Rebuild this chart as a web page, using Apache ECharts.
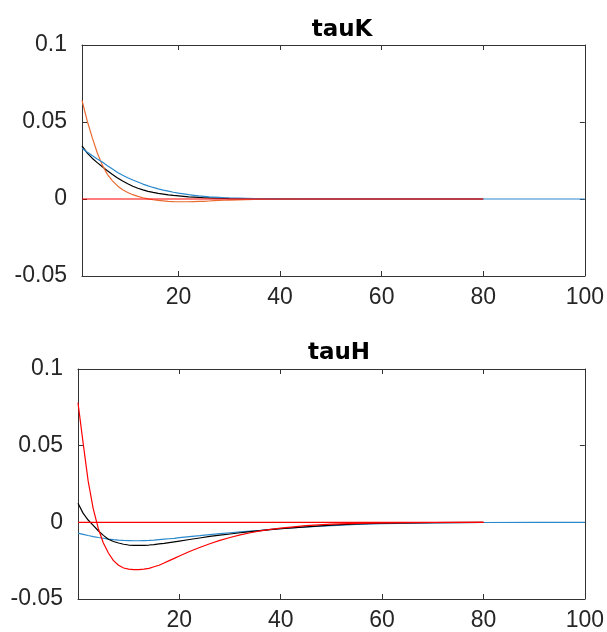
<!DOCTYPE html>
<html>
<head>
<meta charset="utf-8">
<script src="https://cdn.jsdelivr.net/npm/echarts@6/dist/echarts.min.js"></script>
<style>
  html, body { margin: 0; padding: 0; background: #fff; }
  #chart { width: 607px; height: 632px; }
</style>
</head>
<body>
<div id="chart"></div>
<script>
// tauK panel (periods 1..)
var kX = [1,2,3,4,5,6,7,8,9,10,11,12,13,14,15,16,17,18,19,20,21,22,23,24,25,26,27,28,29,30,35,40,45,50,60,70,80];
var kOrange = [0.064,0.051,0.040,0.030,0.022,0.016,0.0118,0.0085,0.006,0.0042,0.0028,0.0017,0.0008,0.0001,-0.0005,-0.0009,-0.0012,-0.0015,-0.0017,-0.0018,-0.0018,-0.0018,-0.0017,-0.0016,-0.0015,-0.0013,-0.0011,-0.0009,-0.0008,-0.0007,-0.0003,-0.0001,0,0,0,0,0];
var kBlack = [0.0345,0.030,0.0265,0.0236,0.0209,0.0183,0.0159,0.0137,0.0117,0.0099,0.0083,0.007,0.0059,0.005,0.0043,0.0037,0.0032,0.0027,0.0023,0.002,0.0017,0.0014,0.0012,0.001,0.0008,0.0007,0.0006,0.0005,0.0004,0.0003,0.0001,0,0,0,0,0,0];
var kBlueX = kX.concat([90,100]);
var kBlue = [0.033,0.0305,0.0282,0.026,0.024,0.0216,0.0194,0.0172,0.0154,0.0138,0.0123,0.011,0.0097,0.0085,0.0075,0.0066,0.0058,0.0051,0.0044,0.0038,0.0033,0.0028,0.0024,0.002,0.0017,0.0014,0.0012,0.001,0.0008,0.0007,0.0003,0.0001,0,0,0,0,0,0,0];
var kZeroX = [1,80];

// tauH panel (periods 0..)
var hX = [0,1,2,3,4,5,6,7,8,9,10,11,12,13,14,15,16,17,18,19,20,22,24,26,28,30,32,34,36,38,40,45,50,55,60,70,80];
var hRed = [0.078,0.052,0.027,0.009,-0.004,-0.0135,-0.020,-0.025,-0.028,-0.0298,-0.0305,-0.0308,-0.0308,-0.0305,-0.030,-0.029,-0.028,-0.0265,-0.025,-0.0235,-0.022,-0.019,-0.0164,-0.014,-0.0118,-0.0099,-0.0082,-0.0068,-0.0056,-0.0046,-0.0038,-0.0022,-0.0012,-0.0007,-0.0003,-0.0001,0];
var hBlack = [0.0124,0.006,0.0015,-0.002,-0.0055,-0.0085,-0.011,-0.0125,-0.0135,-0.0143,-0.0148,-0.015,-0.015,-0.015,-0.0148,-0.0145,-0.0141,-0.0137,-0.0132,-0.0127,-0.0122,-0.0112,-0.0102,-0.0092,-0.0084,-0.0076,-0.0068,-0.0061,-0.0054,-0.0048,-0.0042,-0.003,-0.0018,-0.001,-0.0006,-0.0002,0];
var hBlueX = hX.concat([90,100]);
var hBlue = [-0.007,-0.0078,-0.0086,-0.0093,-0.0099,-0.0104,-0.0109,-0.0113,-0.0116,-0.0118,-0.0119,-0.012,-0.012,-0.0119,-0.0118,-0.0116,-0.0113,-0.011,-0.0107,-0.0104,-0.01,-0.0093,-0.0087,-0.008,-0.0074,-0.0068,-0.0062,-0.0057,-0.0052,-0.0046,-0.0041,-0.003,-0.0021,-0.0014,-0.0009,-0.0003,-0.0001,0,0];
var hZeroX = [0,80];

var xTicks = [20,40,60,80,100];
var titles = ['tauK','tauH'];

function pairs(xs, ys) {
    return xs.map(function (x, i) { return [x, ys[i]]; });
}
function zeros(xs) {
    return xs.map(function (x) { return [x, 0]; });
}

var axisColor = '#333';
var textColor = '#262626';
var font = 'Liberation Sans, Arial, sans-serif';

function xAxes(idx, min) {
    return [
        {
            type: 'value', gridIndex: idx, min: min, max: 100, position: 'bottom',
            axisLine: {onZero: false, lineStyle: {color: axisColor, width: 1}},
            axisTick: {inside: true, length: 5, customValues: xTicks, lineStyle: {color: axisColor}},
            axisLabel: {customValues: xTicks, color: textColor, fontSize: 23, fontFamily: font, margin: 10},
            splitLine: {show: false}
        },
        {
            type: 'value', gridIndex: idx, min: min, max: 100, position: 'top',
            axisLine: {onZero: false, lineStyle: {color: axisColor, width: 1}},
            axisTick: {inside: true, length: 5, customValues: xTicks, lineStyle: {color: axisColor}},
            axisLabel: {show: false},
            splitLine: {show: false}
        }
    ];
}
function yAxes(idx) {
    return [
        {
            type: 'value', gridIndex: idx, min: -0.05, max: 0.1, interval: 0.05, position: 'left',
            axisLine: {show: true, onZero: false, lineStyle: {color: axisColor, width: 1}},
            axisTick: {show: true, inside: true, length: 5, lineStyle: {color: axisColor}},
            axisLabel: {
                color: textColor, fontSize: 23, fontFamily: font, margin: 15,
                formatter: function (v) { return String(parseFloat(v.toFixed(3))); }
            },
            splitLine: {show: false}
        },
        {
            type: 'value', gridIndex: idx, min: -0.05, max: 0.1, interval: 0.05, position: 'right',
            axisLine: {show: true, onZero: false, lineStyle: {color: axisColor, width: 1}},
            axisTick: {show: true, inside: true, length: 5, lineStyle: {color: axisColor}},
            axisLabel: {show: false},
            splitLine: {show: false}
        }
    ];
}

function line(data, color, xi, yi) {
    return {
        type: 'line', data: data, xAxisIndex: xi, yAxisIndex: yi,
        symbol: 'none', showSymbol: false, silent: true,
        lineStyle: {color: color, width: 1.2}
    };
}

var blue = '#2a88cc';
var orange = '#ea6a30';
var red = '#ff0000';

var dom = document.getElementById('chart');
var myChart = echarts.init(dom);
var option = {
    animation: false,
    backgroundColor: '#fff',
    title: [
        {text: titles[0], left: 337, top: 14, textAlign: 'center',
         textStyle: {fontSize: 23, fontWeight: 'bold', color: '#000', fontFamily: 'DejaVu Sans, sans-serif'}},
        {text: titles[1], left: 334, top: 337, textAlign: 'center',
         textStyle: {fontSize: 23, fontWeight: 'bold', color: '#000', fontFamily: 'DejaVu Sans, sans-serif'}}
    ],
    grid: [
        {left: 82, top: 45, width: 507, height: 231},
        {left: 78, top: 369, width: 511, height: 230}
    ],
    xAxis: xAxes(0, 1).concat(xAxes(1, 0)),
    yAxis: yAxes(0).concat(yAxes(1)),
    series: [
        line(pairs(kX, kBlack), '#000', 0, 0),
        line(pairs(kX, kOrange), orange, 0, 0),
        line(pairs(kBlueX, kBlue), blue, 0, 0),
        line(zeros(kZeroX), red, 0, 0),
        line(pairs(hBlueX, hBlue), blue, 2, 2),
        line(pairs(hX, hBlack), '#000', 2, 2),
        line(pairs(hX, hRed), red, 2, 2),
        line(zeros(hZeroX), red, 2, 2)
    ]
};
myChart.setOption(option, true);
</script>
</body>
</html>
